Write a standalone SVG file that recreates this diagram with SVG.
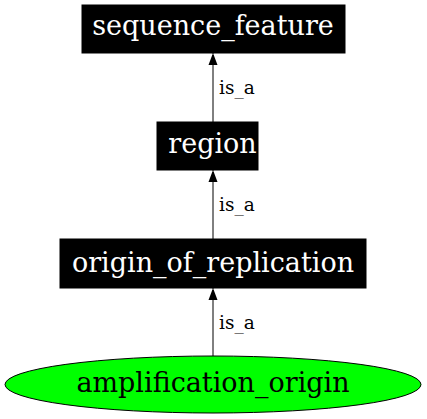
<svg xmlns="http://www.w3.org/2000/svg" width="427" height="419" viewBox="0 0 427 419">
<style>
.box{fill:#000;stroke:#000}
.nt{font-family:"DejaVu Serif",serif;font-size:27px;fill:#fff;text-anchor:middle}
.et{font-family:"DejaVu Serif",serif;font-size:18.5px;fill:#000}
.e{stroke:#000;stroke-width:1;fill:none}
</style>
<defs>
<marker id="ah" markerWidth="10" markerHeight="12" refX="12" refY="5" orient="auto" markerUnits="userSpaceOnUse">
<path d="M0,0.5 L12,5 L0,9.5 Z" fill="#000"/>
</marker>
</defs>
<rect width="427" height="419" fill="#fff"/>
<g id="edges">
<path class="e" d="M213,122 L213,53" marker-end="url(#ah)"/>
<text class="et" x="219" y="94">is_a</text>
<path class="e" d="M213,239 L213,170" marker-end="url(#ah)"/>
<text class="et" x="219" y="211">is_a</text>
<path class="e" d="M213,356 L213,288" marker-end="url(#ah)"/>
<text class="et" x="219" y="329">is_a</text>
</g>
<g id="sequence_feature">
<rect class="box" x="82" y="5" width="263" height="48"/>
<text class="nt" x="213" y="35">sequence_feature</text>
</g>
<g id="region">
<rect class="box" x="157" y="122" width="101" height="48"/>
<text class="nt" x="212.5" y="153">region</text>
</g>
<g id="origin_of_replication">
<rect class="box" x="60" y="239" width="306" height="49"/>
<text class="nt" x="213" y="271.5">origin_of_replication</text>
</g>
<g id="amplification_origin">
<ellipse cx="213" cy="384.5" rx="208" ry="28.5" fill="#00ff00" stroke="#000"/>
<text class="nt" x="213" y="391.5" style="fill:#000">amplification_origin</text>
</g>
</svg>
